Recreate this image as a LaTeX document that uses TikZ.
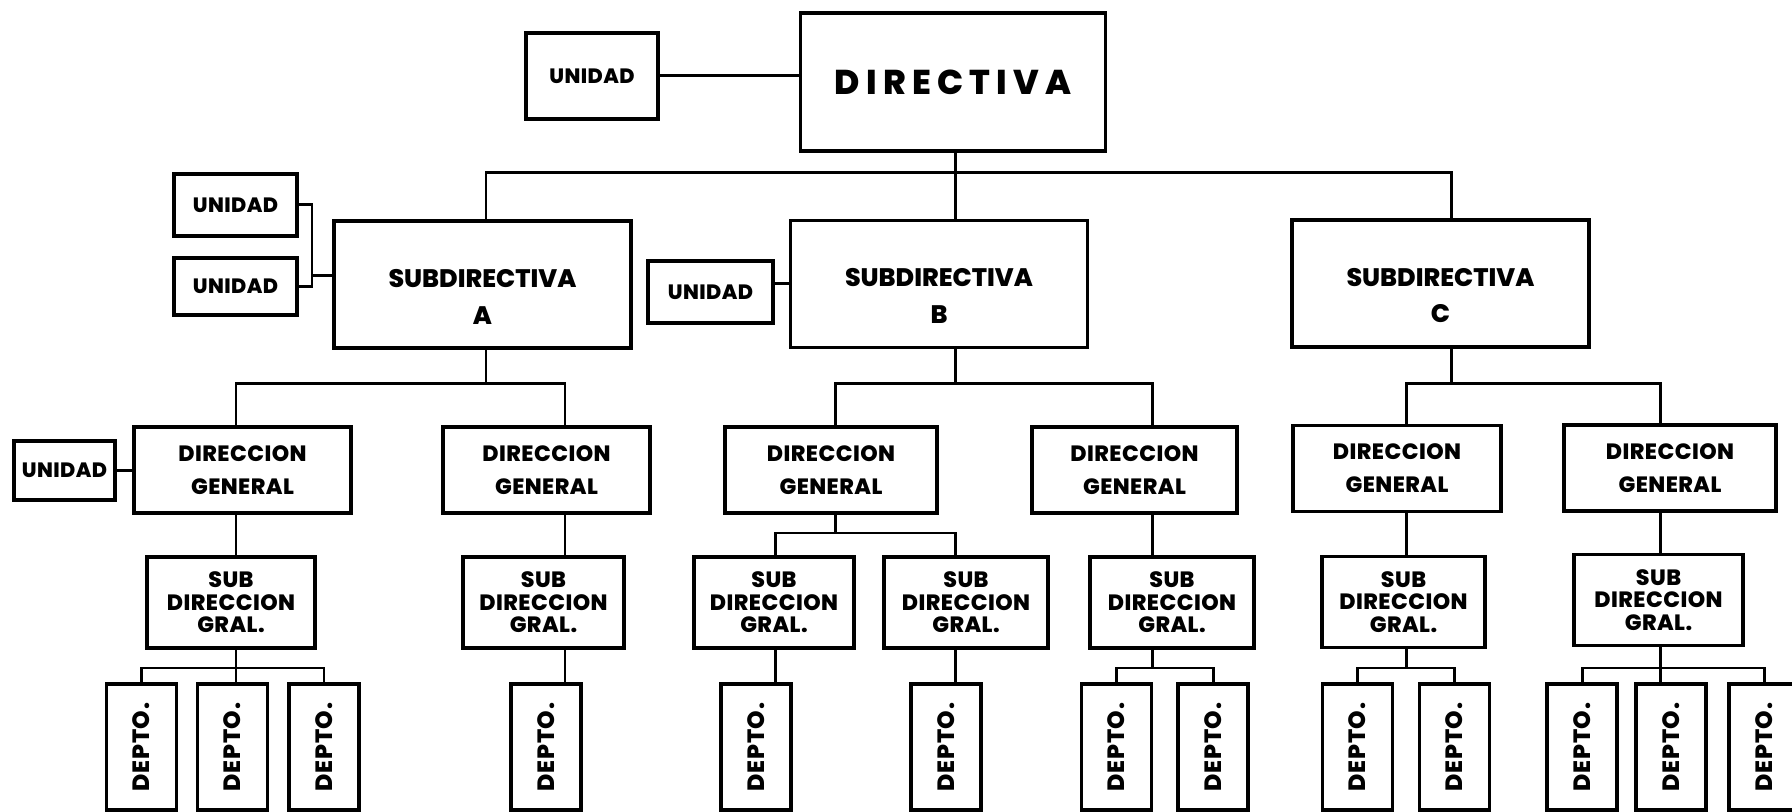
\documentclass[tikz,border=0pt]{standalone}
\usepackage{fontspec}
\usepackage{graphicx}
\setmainfont{Poppins}[BoldFont={* ExtraBold}]
\newcommand{\depto}{\rotatebox{90}{DEPTO.}}
\tikzset{
  box/.style={draw, line width=1.1pt, align=center, inner sep=0pt},
  dirbox/.style={box, minimum width=3.05cm, minimum height=1.38cm,
    font=\bfseries\fontsize{9.8}{11}\selectfont\addfontfeature{LetterSpace=18}},
  subbox/.style={box, minimum width=2.97cm, minimum height=1.27cm, text height=22.5pt,
    font=\bfseries\fontsize{7.2}{10.5}\selectfont},
  unitbox/.style={box, font=\bfseries\fontsize{5.9}{6.5}\selectfont\addfontfeature{LetterSpace=2}},
  dgbox/.style={box, minimum height=0.86cm,
    font=\bfseries\fontsize{6.3}{9.4}\selectfont\addfontfeature{LetterSpace=2}},
  sgbox/.style={box, minimum height=0.91cm,
    font=\bfseries\fontsize{6.3}{6.4}\selectfont\addfontfeature{LetterSpace=2}},
  deptobox/.style={box, minimum width=0.70cm, minimum height=1.26cm,
    font=\bfseries\fontsize{6.7}{7}\selectfont\addfontfeature{LetterSpace=3}}
}
\begin{document}
\begin{tikzpicture}[line width=0.85pt]
    \useasboundingbox (0,0) rectangle (17.92,-8.12);
    \clip (0,0) rectangle (17.92,-8.12);

    % columns of the vertical lines
    \foreach \n/\x in {sA/4.86, sB/9.55, sC/14.51, cA1/2.36, cA2/5.65, cB1/8.35,
                       cB1a/7.75, cB1b/9.55, cB2/11.52, cC1/14.06, cC2/16.60}
        \coordinate (\n) at (\x,0);
    % levels of the horizontal lines
    \foreach \n/\y in {yA/-1.73, yB/-3.84, yC/-5.33, yD/-6.68}
        \coordinate (\n) at (0,\y);

    % Directiva
    \node[dirbox] (dir) at (9.53,-0.82) {DIRECTIVA};
    \node[unitbox, minimum width=1.32cm, minimum height=0.86cm] (u0) at (5.92,-0.76) {UNIDAD};
    \draw (u0.east) -- (u0.east -| dir.west);

    % Subdirectivas
    \node[subbox] (subA) at (4.825,-2.845) {SUBDIRECTIVA\\A};
    \node[subbox] (subB) at (9.39,-2.84) {SUBDIRECTIVA\\B};
    \node[subbox] (subC) at (14.405,-2.835) {SUBDIRECTIVA\\C};
    \draw (dir.south -| sB) -- (subB.north -| sB);
    \draw (subA.north -| sA) |- (sB |- yA) -| (subC.north -| sC);

    % Unidades
    \node[unitbox, minimum width=1.23cm, minimum height=0.62cm] (uA1) at (2.355,-2.05) {UNIDAD};
    \node[unitbox, minimum width=1.23cm, minimum height=0.57cm] (uA2) at (2.355,-2.865) {UNIDAD};
    \coordinate (kA) at (3.12,-2.76);
    \draw (uA1.east) -| (kA) |- (uA2.east);
    \draw (kA) -- (kA -| subA.west);
    \node[unitbox, minimum width=1.25cm, minimum height=0.62cm] (uB) at (7.105,-2.92) {UNIDAD};
    \draw (subB.west) -- (subB.west -| uB.east);

    % Direcciones generales
    \node[dgbox, minimum width=2.17cm] (dgA1) at (2.425,-4.70) {DIRECCION\\GENERAL};
    \node[dgbox, minimum width=2.07cm] (dgA2) at (5.465,-4.70) {DIRECCION\\GENERAL};
    \node[dgbox, minimum width=2.12cm] (dgB1) at (8.31,-4.70) {DIRECCION\\GENERAL};
    \node[dgbox, minimum width=2.05cm] (dgB2) at (11.345,-4.70) {DIRECCION\\GENERAL};
    \node[dgbox, minimum width=2.08cm] (dgC1) at (13.97,-4.685) {DIRECCION\\GENERAL};
    \node[dgbox, minimum width=2.12cm] (dgC2) at (16.70,-4.68) {DIRECCION\\GENERAL};
    \draw (subA.south -| sA) -- (sA |- yB);
    \draw (dgA1.north -| cA1) |- (sA |- yB) -| (dgA2.north -| cA2);
    \draw (subB.south -| sB) -- (sB |- yB);
    \draw (dgB1.north -| cB1) |- (sB |- yB) -| (dgB2.north -| cB2);
    \draw (subC.south -| sC) -- (sC |- yB);
    \draw (dgC1.north -| cC1) |- (sC |- yB) -| (dgC2.north -| cC2);

    \node[unitbox, minimum width=1.01cm, minimum height=0.59cm] (uA3) at (0.645,-4.705) {UNIDAD};
    \draw (uA3.east) -- (uA3.east -| dgA1.west);

    % Subdirecciones generales
    \node[sgbox, minimum width=1.68cm] (sgA1) at (2.31,-6.025) {SUB\\DIRECCION\\GRAL.};
    \node[sgbox, minimum width=1.61cm] (sgA2) at (5.435,-6.025) {SUB\\DIRECCION\\GRAL.};
    \node[sgbox, minimum width=1.60cm] (sgB1a) at (7.74,-6.025) {SUB\\DIRECCION\\GRAL.};
    \node[sgbox, minimum width=1.64cm] (sgB1b) at (9.66,-6.025) {SUB\\DIRECCION\\GRAL.};
    \node[sgbox, minimum width=1.64cm] (sgB2) at (11.72,-6.025) {SUB\\DIRECCION\\GRAL.};
    \node[sgbox, minimum width=1.63cm] (sgC1) at (14.035,-6.02) {SUB\\DIRECCION\\GRAL.};
    \node[sgbox, minimum width=1.69cm] (sgC2) at (16.585,-6.00) {SUB\\DIRECCION\\GRAL.};
    \draw (dgA1.south -| cA1) -- (sgA1.north -| cA1);
    \draw (dgA2.south -| cA2) -- (sgA2.north -| cA2);
    \draw (dgB1.south -| cB1) -- (cB1 |- yC);
    \draw (sgB1a.north -| cB1a) |- (cB1 |- yC) -| (sgB1b.north -| cB1b);
    \draw (dgB2.south -| cB2) -- (sgB2.north -| cB2);
    \draw (dgC1.south -| cC1) -- (sgC1.north -| cC1);
    \draw (dgC2.south -| cC2) -- (sgC2.north -| cC2);

    % Departamentos
    \foreach \n/\x in {dA1a/1.415, dA1b/2.325, dA1c/3.24, dA2/5.46, dB1a/7.56, dB1b/9.46,
                       dB2a/11.165, dB2b/12.13, dC1a/13.575, dC1b/14.545,
                       dC2a/15.82, dC2b/16.71, dC2c/17.64}
        \node[deptobox] (\n) at (\x,-7.47) {\depto};
    \draw (sgA1.south -| cA1) -- (dA1b.north -| cA1);
    \draw (dA1a.north) |- (cA1 |- yD) -| (dA1c.north);
    \draw (sgA2.south -| cA2) -- (dA2.north -| cA2);
    \draw (sgB1a.south -| cB1a) -- (dB1a.north -| cB1a);
    \draw (sgB1b.south -| cB1b) -- (dB1b.north -| cB1b);
    \draw (sgB2.south -| cB2) -- (cB2 |- yD);
    \draw (dB2a.north) |- (cB2 |- yD) -| (dB2b.north);
    \draw (sgC1.south -| cC1) -- (cC1 |- yD);
    \draw (dC1a.north) |- (cC1 |- yD) -| (dC1b.north);
    \draw (sgC2.south -| cC2) -- (dC2b.north -| cC2);
    \draw (dC2a.north) |- (cC2 |- yD) -| (dC2c.north);
\end{tikzpicture}
\end{document}
